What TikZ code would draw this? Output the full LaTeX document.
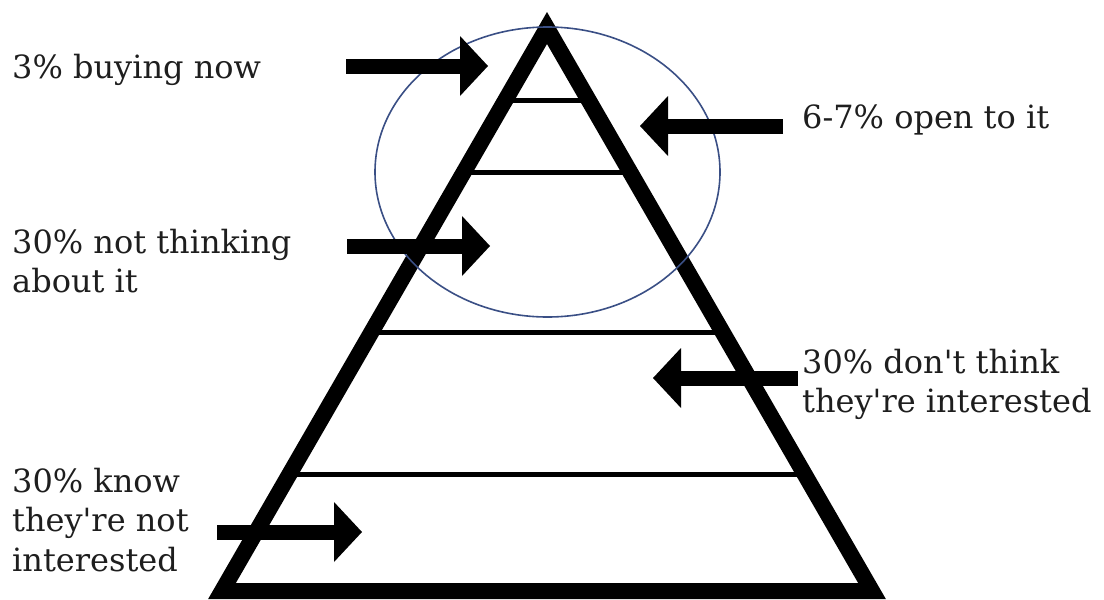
\documentclass[tikz,border=0pt]{standalone}
\usepackage{fontspec}
\setmainfont{DejaVu Serif}
\usetikzlibrary{arrows.meta,calc}
\definecolor{ovalblue}{HTML}{3A4F85}
\definecolor{txt}{HTML}{1E1E1E}
\newcommand{\lines}[1]{\begin{tabular}[t]{@{}l@{}}#1\end{tabular}}
\begin{document}
\begin{tikzpicture}[x=1pt,y=-1pt,
  label/.style={inner sep=0pt,anchor=base west,text=txt,
    font=\fontsize{32}{39.5}\selectfont},
  bigarrow/.style={line width=15pt,
    -{Triangle[length=28pt,width=60pt,line width=0pt]}},
  pyr/.style={line width=16pt,line join=miter},
  tier/.style={line width=5pt}]
\useasboundingbox (0,0) rectangle (1104,600);
% pyramid
\coordinate (apex) at (547,28);
\coordinate (bl) at (222,591);
\coordinate (br) at (872,591);
\foreach \t in {0.1279,0.2575,0.5400,0.7922}
  \draw[tier] ($(apex)!\t!(bl)$) -- ($(apex)!\t!(br)$);
\draw[pyr] (apex) -- (bl) -- (br) -- cycle;
% oval
\draw[ovalblue,line width=1.6pt] (547.5,172) ellipse [x radius=172.5,y radius=145];
% labels
\node[label] (t1) at (12,78) {3\% buying now};
\node[label] (t2) at (802,128) {6-7\% open to it};
\node[label] (t3) at (12,253) {\lines{30\% not thinking\\about it}};
\node[label] (t4) at (802,373) {\lines{30\% don\textquotesingle t think\\they\textquotesingle re interested}};
\node[label] (t5) at (12,492) {\lines{30\% know\\they\textquotesingle re not\\interested}};
% arrows
\coordinate (a1s) at (346,66);  \coordinate (a1e) at (488,66);
\coordinate (a2s) at (783,126); \coordinate (a2e) at (640,126);
\coordinate (a3s) at (347,246); \coordinate (a3e) at (490,246);
\coordinate (a4s) at (798,378); \coordinate (a4e) at (653,378);
\coordinate (a5s) at (217,532); \coordinate (a5e) at (362,532);
\foreach \i in {1,...,5}
  \draw[bigarrow] (a\i s) -- (a\i e);
\end{tikzpicture}
\end{document}
